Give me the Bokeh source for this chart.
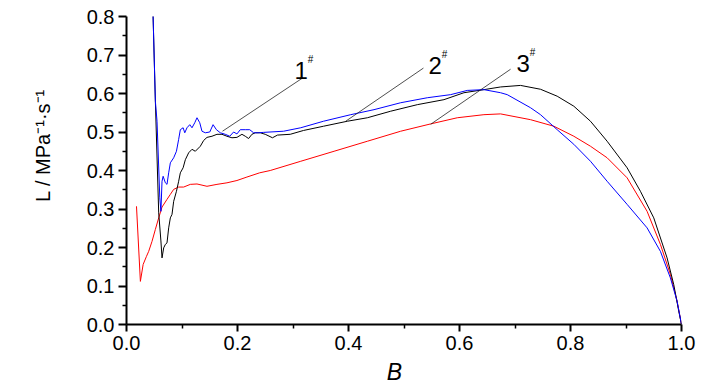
from bokeh.plotting import figure
from bokeh.models import Range1d, FixedTicker, Label
from bokeh.embed import file_html
from bokeh.resources import INLINE

FONT = "Liberation Sans"

# ---------------- data ----------------
x_ticks = [0.0, 0.2, 0.4, 0.6, 0.8, 1.0]
x_tick_labels = ["0.0", "0.2", "0.4", "0.6", "0.8", "1.0"]
x_minor = [0.1, 0.3, 0.5, 0.7, 0.9]
y_ticks = [0.0, 0.1, 0.2, 0.3, 0.4, 0.5, 0.6, 0.7, 0.8]
y_tick_labels = ["0.0", "0.1", "0.2", "0.3", "0.4", "0.5", "0.6", "0.7", "0.8"]
y_minor = [0.05, 0.15, 0.25, 0.35, 0.45, 0.55, 0.65, 0.75]

x_title = "B"
y_title = "L / MPa\u207b\u00b9\u00b7s\u207b\u00b9"

# curve 2# (black)
black_x = [0.047, 0.052, 0.058, 0.062, 0.064, 0.067, 0.070, 0.073, 0.076, 0.079,
           0.082, 0.085, 0.090, 0.094, 0.097, 0.102, 0.106, 0.112, 0.118, 0.124,
           0.133, 0.139, 0.145, 0.154, 0.163, 0.172, 0.181, 0.190, 0.199, 0.208,
           0.214, 0.220, 0.226, 0.232, 0.241, 0.250, 0.263, 0.272, 0.295, 0.319,
           0.355, 0.398, 0.434, 0.476, 0.524, 0.572, 0.608, 0.644, 0.674, 0.710,
           0.746, 0.776, 0.806, 0.836, 0.866, 0.902, 0.926, 0.950, 0.974, 0.986,
           0.995, 1.000]
black_y = [0.850, 0.580, 0.290, 0.217, 0.173, 0.199, 0.208, 0.212, 0.251, 0.277,
           0.286, 0.320, 0.346, 0.372, 0.394, 0.407, 0.428, 0.446, 0.455, 0.450,
           0.463, 0.478, 0.486, 0.489, 0.494, 0.494, 0.489, 0.485, 0.486, 0.494,
           0.489, 0.483, 0.494, 0.498, 0.498, 0.494, 0.485, 0.492, 0.494, 0.504,
           0.515, 0.528, 0.537, 0.554, 0.571, 0.584, 0.602, 0.610, 0.617, 0.621,
           0.611, 0.593, 0.567, 0.528, 0.476, 0.407, 0.346, 0.277, 0.173, 0.104,
           0.035, 0.000]

# curve 1# (blue)
blue_x = [0.047, 0.052, 0.055, 0.060, 0.062, 0.064, 0.066, 0.070, 0.073, 0.076,
          0.079, 0.085, 0.090, 0.094, 0.097, 0.102, 0.105, 0.109, 0.114, 0.118,
          0.123, 0.127, 0.132, 0.136, 0.142, 0.150, 0.156, 0.162, 0.169, 0.178,
          0.186, 0.193, 0.199, 0.205, 0.214, 0.222, 0.229, 0.238, 0.247, 0.283,
          0.314, 0.355, 0.404, 0.446, 0.494, 0.542, 0.584, 0.614, 0.644, 0.674,
          0.686, 0.728, 0.746, 0.776, 0.806, 0.836, 0.866, 0.902, 0.938, 0.962,
          0.980, 0.992, 1.000]
blue_y = [0.850, 0.580, 0.528, 0.329, 0.294, 0.372, 0.385, 0.368, 0.364, 0.394,
          0.420, 0.433, 0.450, 0.481, 0.506, 0.511, 0.498, 0.511, 0.519, 0.511,
          0.524, 0.537, 0.524, 0.502, 0.498, 0.500, 0.519, 0.506, 0.498, 0.494,
          0.489, 0.500, 0.495, 0.506, 0.506, 0.506, 0.498, 0.498, 0.499, 0.502,
          0.511, 0.528, 0.545, 0.558, 0.576, 0.589, 0.597, 0.608, 0.610, 0.602,
          0.597, 0.563, 0.545, 0.506, 0.468, 0.424, 0.372, 0.312, 0.251, 0.190,
          0.121, 0.061, 0.000]

# curve 3# (red)
red_x = [0.018, 0.025, 0.030, 0.036, 0.040, 0.046, 0.052, 0.058, 0.064, 0.073,
         0.079, 0.085, 0.094, 0.103, 0.115, 0.127, 0.145, 0.163, 0.181, 0.199,
         0.217, 0.240, 0.259, 0.314, 0.374, 0.434, 0.494, 0.548, 0.596, 0.644,
         0.674, 0.728, 0.770, 0.806, 0.836, 0.866, 0.902, 0.938, 0.962, 0.980,
         0.992, 1.000]
red_y = [0.307, 0.112, 0.156, 0.177, 0.190, 0.216, 0.247, 0.277, 0.305, 0.325,
         0.338, 0.351, 0.357, 0.357, 0.364, 0.365, 0.359, 0.364, 0.368, 0.374,
         0.383, 0.394, 0.400, 0.424, 0.450, 0.476, 0.502, 0.521, 0.537, 0.545,
         0.547, 0.532, 0.515, 0.489, 0.463, 0.433, 0.381, 0.294, 0.208, 0.130,
         0.061, 0.000]

# leader lines of the annotations 1#, 2#, 3#
lead_x0 = [0.317, 0.535, 0.692]
lead_y0 = [0.640, 0.666, 0.663]
lead_x1 = [0.173, 0.395, 0.548]
lead_y1 = [0.502, 0.528, 0.520]
ann_text = ["1", "2", "3"]

# ---------------- layout helpers (reference pixel -> data) ----------------
X0_PX, X_SCALE = 126.0, 555.0
Y0_PX, Y_SCALE = 324.0, 385.0


def dx(px):
    return (px - X0_PX) / X_SCALE


def dy(py):
    return (Y0_PX - py) / Y_SCALE


p = figure(width=728, height=390, output_backend="svg", toolbar_location=None,
           x_range=Range1d(0, 1), y_range=Range1d(0, 0.8),
           min_border_left=126, min_border_right=47,
           min_border_top=16, min_border_bottom=66)
p.outline_line_color = None
p.grid.visible = False
p.background_fill_color = "white"
p.border_fill_color = "white"

p.xaxis.ticker = FixedTicker(ticks=x_ticks, minor_ticks=x_minor)
p.yaxis.ticker = FixedTicker(ticks=y_ticks, minor_ticks=y_minor)
p.xaxis.major_label_overrides = {t: s for t, s in zip(x_ticks, x_tick_labels)}
p.yaxis.major_label_overrides = {t: s for t, s in zip(y_ticks, y_tick_labels)}

for ax in (p.xaxis[0], p.yaxis[0]):
    ax.axis_line_width = 2
    ax.axis_line_color = "black"
    ax.major_tick_line_width = 2
    ax.minor_tick_line_width = 1.5
    ax.major_tick_line_color = "black"
    ax.minor_tick_line_color = "black"
    ax.major_tick_in = 0
    ax.minor_tick_in = 0
    ax.major_label_text_font = FONT
    ax.major_label_text_font_size = "20px"
    ax.major_label_text_color = "black"
    ax.major_label_standoff = 4
    ax.axis_label_text_font = FONT
    ax.axis_label_text_color = "black"
p.yaxis.major_tick_out = 8
p.yaxis.minor_tick_out = 4
p.xaxis.major_tick_out = 7
p.xaxis.minor_tick_out = 4

# axis titles (non-breaking spaces shift the centred text like in the reference)
NBSP = "\u00a0"
p.xaxis.axis_label = x_title + NBSP * 3
p.xaxis.axis_label_text_font_size = "23px"
p.xaxis.axis_label_text_font_style = "italic"
p.xaxis.axis_label_standoff = 6
p.yaxis.axis_label = NBSP * 9 + y_title
p.yaxis.axis_label_text_font_size = "20px"
p.yaxis.axis_label_text_font_style = "normal"
p.yaxis.axis_label_standoff = 30

p.line(red_x, red_y, line_color="#ff0000", line_width=1)
p.line(black_x, black_y, line_color="black", line_width=1)
p.line(blue_x, blue_y, line_color="#0000ff", line_width=1)

p.segment(x0=lead_x0, y0=lead_y0, x1=lead_x1, y1=lead_y1,
          line_color="#222222", line_width=0.8)

# annotation texts  n + superscript '#'
ann_px = [(294, 70), (428, 65), (516, 63)]
for t, (ax_px, ay_px) in zip(ann_text, ann_px):
    p.add_layout(Label(x=dx(ax_px), y=dy(ay_px), text=t, text_font=FONT,
                       text_font_size="24px", text_color="black",
                       text_align="left", text_baseline="alphabetic"))
    p.add_layout(Label(x=dx(ax_px + 13.3), y=dy(ay_px - 11), text="#", text_font=FONT,
                       text_font_size="10px", text_color="black",
                       text_align="left", text_baseline="alphabetic"))

open("out.html", "w").write(file_html(p, INLINE))
